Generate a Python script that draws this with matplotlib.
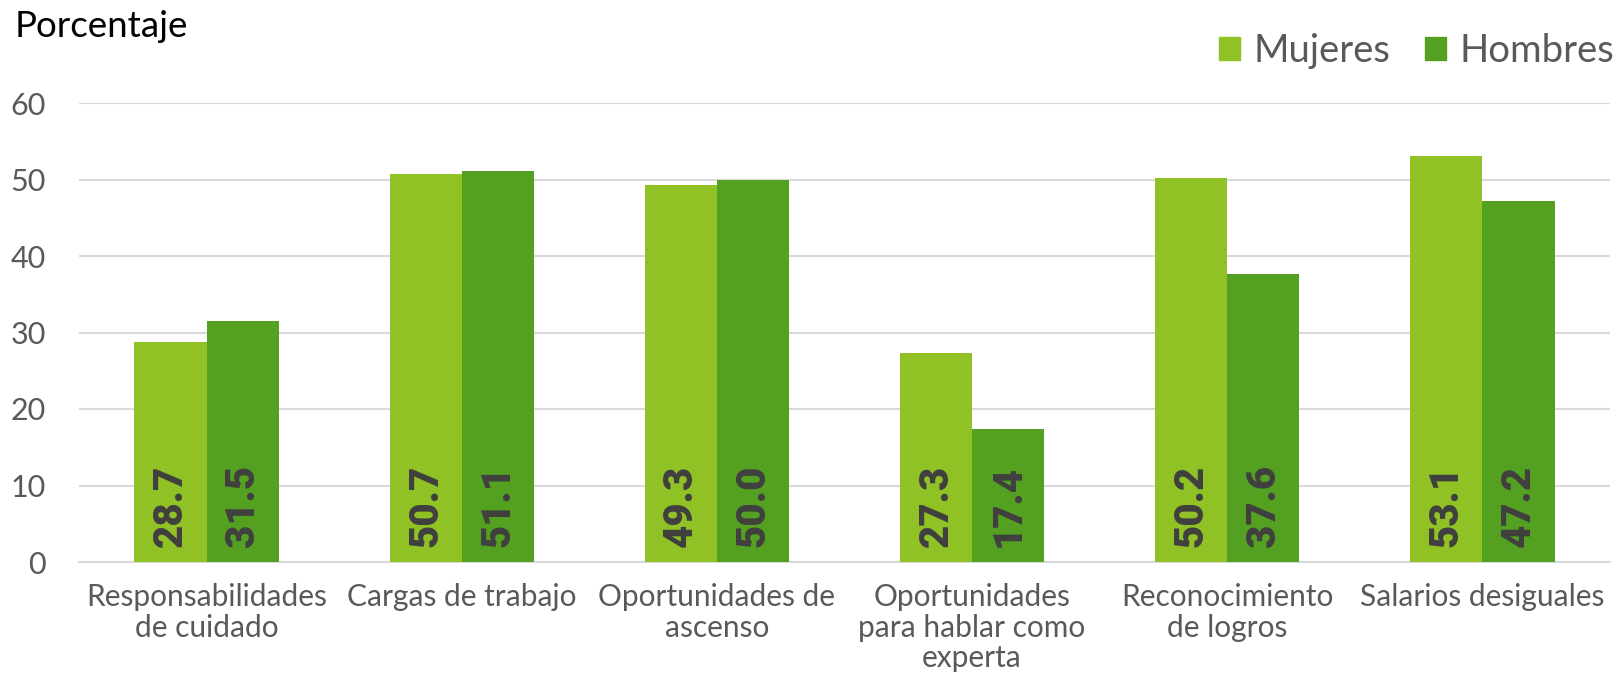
import matplotlib.pyplot as plt
import numpy as np
from matplotlib.patches import Patch

categorias = ["Responsabilidades\nde cuidado", "Cargas de trabajo", "Oportunidades de\nascenso",
              "Oportunidades\npara hablar como\nexperta", "Reconocimiento\nde logros", "Salarios desiguales"]
mujeres = [28.7, 50.7, 49.3, 27.3, 50.2, 53.1]
hombres = [31.5, 51.1, 50.0, 17.4, 37.6, 47.2]
yticks = [0, 10, 20, 30, 40, 50, 60]

c_muj = "#90C226"
c_hom = "#54A021"
gris = "#595959"

plt.rcParams['font.family'] = ['Lato', 'DejaVu Sans']

fig = plt.figure(figsize=(16.19, 6.74), dpi=100)
ax = fig.add_axes([79/1619, 1 - 562/674, (1610-79)/1619, (562-103)/674])

x = np.arange(len(categorias))
w = 0.283
b1 = ax.bar(x - w/2, mujeres, w, color=c_muj, zorder=3)
b2 = ax.bar(x + w/2, hombres, w, color=c_hom, zorder=3)

for bars, vals in [(b1, mujeres), (b2, hombres)]:
    for r, v in zip(bars, vals):
        ax.annotate("{:.1f}".format(v), (r.get_x() + r.get_width()/2, 0),
                    xytext=(0, 11), textcoords="offset points", rotation=90,
                    ha="center", va="bottom", fontsize=29, fontweight="black",
                    color="#404040", family=["Roboto", "DejaVu Sans"], zorder=4)

ax.set_xlim(-0.5, len(categorias) - 0.5)
ax.set_ylim(0, 60)
ax.set_yticks(yticks)
ax.yaxis.grid(True, color="#D9D9D9", linewidth=1.5, zorder=0)
for s in ["top", "right", "left"]:
    ax.spines[s].set_visible(False)
ax.spines["bottom"].set_color("#D9D9D9")
ax.spines["bottom"].set_linewidth(1.5)
ax.set_xticks(x)
ax.set_xticklabels(categorias, fontsize=21.5, color=gris, linespacing=1.12)
ax.tick_params(axis="y", length=0, pad=24, labelsize=22, labelcolor=gris)
ax.tick_params(axis="x", length=0, pad=15)

fig.text(15/1619, 1 - 10/674, "Porcentaje", fontsize=26.5, color="black", va="top", ha="left")

handles = [Patch(color=c_muj, label="Mujeres"), Patch(color=c_hom, label="Hombres")]
fig.legend(handles=handles, loc="upper right", bbox_to_anchor=(1614/1619, 1 - 33/674), ncol=2,
           frameon=False, fontsize=27.5, labelcolor=gris, handlelength=0.55, handleheight=0.55,
           handletextpad=0.35, columnspacing=0.9, borderaxespad=0, borderpad=0)

fig.savefig("out.png", dpi=100)
